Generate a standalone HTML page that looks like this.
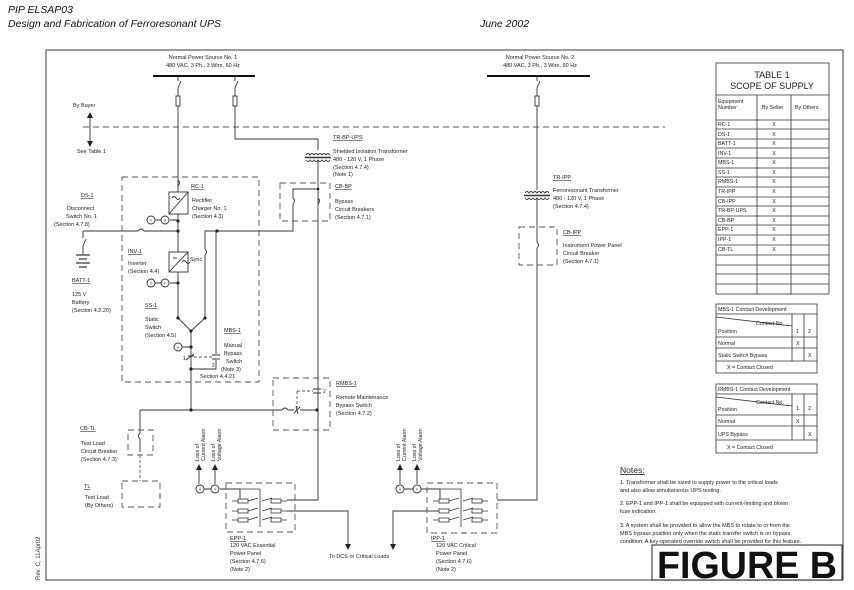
<!DOCTYPE html>
<html><head><meta charset="utf-8"><style>
body{margin:0;background:#fff;}
svg{display:block;font-family:"Liberation Sans",sans-serif;}
</style></head><body>
<svg width="854" height="590" viewBox="0 0 854 590" xmlns="http://www.w3.org/2000/svg">
<g font-style="italic" font-size="10.5" fill="#111">
<text x="8" y="13">PIP ELSAP03</text>
<text x="8" y="27">Design and Fabrication of Ferroresonant UPS</text>
<text x="480" y="27">June 2002</text>
</g>
<rect x="46" y="50" width="797" height="530" fill="none" stroke="#666" stroke-width="1.3"/>
<text transform="translate(40,580) rotate(-90)" font-size="6" fill="#333">Rev. C, 11Apr02</text>

<g font-size="5.5" fill="#222">
<text x="203" y="59" text-anchor="middle">Normal Power Source No. 1</text>
<text x="203" y="67" text-anchor="middle">480 VAC, 3 Ph., 3 Wire, 60 Hz</text>
<text x="540" y="59" text-anchor="middle">Normal Power Source No. 2</text>
<text x="540" y="67" text-anchor="middle">480 VAC, 3 Ph., 3 Wire, 60 Hz</text>
</g>
<g stroke="#111" stroke-width="2"><line x1="153" y1="76" x2="255" y2="76"/><line x1="487" y1="76" x2="590" y2="76"/></g>

<g fill="none" stroke="#333" stroke-width="0.9">
<path d="M178 76V81M178 88l3-7M178 88V96M178 106V192"/>
<rect x="176" y="96" width="4" height="10"/>
<path d="M235 76V81M235 88l3-7M235 88V96M235 106V139H318V150"/>
<rect x="233" y="96" width="4" height="10"/>
<path d="M537 76V81M537 88l3-7M537 88V96M537 106V190"/>
<rect x="535" y="96" width="4" height="10"/>
<path d="M306 155q2-3 4 0q2-3 4 0q2-3 4 0q2-3 4 0q2-3 4 0q2-3 4 0M306 160q2 3 4 0q2 3 4 0q2 3 4 0q2 3 4 0q2 3 4 0q2 3 4 0" />
<line x1="305" y1="157.5" x2="331" y2="157.5" stroke-width="1.5"/>
<path d="M318 160V500H287"/>
<path d="M525 193q2-3 4 0q2-3 4 0q2-3 4 0q2-3 4 0q2-3 4 0q2-3 4 0M525 198q2 3 4 0q2 3 4 0q2 3 4 0q2 3 4 0q2 3 4 0q2 3 4 0"/>
<line x1="524" y1="195.5" x2="550" y2="195.5" stroke-width="1.5"/>
<path d="M537 198V242M537 248V500H497"/>
<path d="M537 242q3 3 0 6"/>
<path d="M318 189H293V198M293 204V231H205V249M205 255V318"/>
<path d="M293 198q3 3 0 6M318 198q3 3 0 6M205 249q3 3 0 6"/>
<path d="M178 180q3 3 0 6M178 214V252M178 272V318L191 331L205 318M191 331V410"/>
<path d="M83 231H138M144 231H178M138 231q3-4 6 0"/>
<path d="M216 231V354M216 360V369H191"/>
<path d="M83 231V238M83 246l3-7M83 246V255"/>
<g stroke-width="1.2"><line x1="76" y1="255" x2="90" y2="255"/><line x1="79" y1="259" x2="87" y2="259"/><line x1="76" y1="263" x2="90" y2="263"/><line x1="79" y1="267" x2="87" y2="267"/></g>
<path d="M140 410H282M288 410H294M300 410H317M282 410q3-4 6 0M294 413l6-6M296 406l2 8"/>
<path d="M140 410V433M140 439V452M140 433q-3 3 0 6"/>
<path d="M188 356h6M186 360l8-6M212 355h8M212 359h8"/>
<path d="M313 389h8M313 393h8"/>
<path d="M170 220H178M170 283H178M182 347H191M220 489H240V500"/>
<path d="M421 489H440V500"/>
<path d="M287 511H348V545M393 545V511H440"/>
<path d="M90 116V143M199 468V484M215 468V484M400 468V484M417 468V484"/>
</g>
<g fill="#222">
<path d="M87 118l3-6l3 6zM87 141l3 6l3-6z"/>
<path d="M196 470l3-6l3 6zM212 470l3-6l3 6zM397 470l3-6l3 6zM414 470l3-6l3 6z"/>
<path d="M345 544l3 6l3-6zM390 544l3 6l3-6z"/>
<circle cx="178" cy="221" r="1.6"/><circle cx="178" cy="231" r="1.6"/><circle cx="217" cy="231" r="1.6"/>
<circle cx="178" cy="283" r="1.6"/><circle cx="178" cy="318" r="1.6"/><circle cx="205" cy="318" r="1.6"/><circle cx="191" cy="331" r="1.6"/>
<circle cx="191" cy="347" r="1.6"/><circle cx="191" cy="369" r="1.6"/><circle cx="191" cy="410" r="1.6"/><circle cx="317" cy="410" r="1.6"/>
<circle cx="318" cy="189" r="1.3"/>
</g>
<g fill="none" stroke="#555" stroke-width="0.9" stroke-dasharray="6,4">
<line x1="83" y1="127" x2="665" y2="127"/>
<rect x="122" y="177" width="137" height="205"/>
<rect x="280" y="183" width="50" height="38"/>
<rect x="519" y="227" width="38" height="38"/>
<rect x="273" y="378" width="57" height="52"/>
<rect x="128" y="430" width="25" height="25"/>
<rect x="122" y="481" width="38" height="26"/>
<rect x="226" y="483" width="69" height="49"/>
<rect x="427" y="483" width="70" height="50"/>
<path d="M140 455V481M194 357h18M297 391h16M297 391v17" stroke-dasharray="3,2"/>
</g>
<g fill="#fff" stroke="#333" stroke-width="0.9">
<rect x="169" y="192" width="19" height="22"/><rect x="169" y="252" width="19" height="20"/>
<circle cx="151" cy="220" r="4"/><circle cx="165" cy="220" r="4"/>
<circle cx="151" cy="283" r="4"/><circle cx="165" cy="283" r="4"/>
<circle cx="178" cy="347" r="4"/>
<circle cx="200" cy="489" r="4"/><circle cx="215" cy="489" r="4"/>
<circle cx="400" cy="489" r="4"/><circle cx="417" cy="489" r="4"/>
</g>
<g stroke="#333" stroke-width="0.9" fill="none">
<path d="M169 214L188 192M169 272L188 252M155 220h6M155 283h6M404 489h9M204 489h7"/>
<path d="M172 198q2-3 4 0q2 3 4 0M182 262q2-3 4 0q2 3 4 0M173 258h4"/>
</g>
<g font-size="3.5" fill="#333" text-anchor="middle">
<text x="151" y="221.5">V</text><text x="165" y="221.5">A</text><text x="151" y="284.5">V</text><text x="165" y="284.5">F</text>
<text x="178" y="348.5">A</text><text x="200" y="490.5">A</text><text x="215" y="490.5">V</text><text x="400" y="490.5">A</text><text x="417" y="490.5">V</text>
</g>
<g stroke="#333" stroke-width="0.8" fill="#fff">
<g id="pnl">
<path d="M232 501h6M248 501l10-3M232 511h6M248 511l10-3M232 520h6M248 520l10-3M262 501l10-3M262 511l10-3M262 520l10-3M281 501h6M281 511h6M281 520h6" fill="none"/>
<path d="M260 489v38M226 489H260" fill="none"/>
<rect x="238" y="499" width="10" height="4"/><rect x="238" y="509" width="10" height="4"/><rect x="238" y="518" width="10" height="4"/>
<rect x="271" y="499" width="10" height="4"/><rect x="271" y="509" width="10" height="4"/><rect x="271" y="518" width="10" height="4"/>
</g>
<use href="#pnl" x="201"/>
</g>

<g font-size="5.5" fill="#222">
<text x="73" y="107">By Buyer</text><text x="77" y="153">See Table 1</text>
<text x="333" y="139" text-decoration="underline">TR-BP-UPS</text>
<text x="333" y="153">Shielded Isolation Transformer</text><text x="333" y="161">480 - 120 V, 1 Phase</text><text x="333" y="169">(Section 4.7.4)</text><text x="333" y="176">(Note 1)</text>
<text x="335" y="188" text-decoration="underline">CB-BP</text><text x="335" y="203">Bypass</text><text x="335" y="211">Circuit Breakers</text><text x="335" y="219">(Section 4.7.1)</text>
<text x="191" y="188" text-decoration="underline">RC-1</text><text x="192" y="202">Rectifier</text><text x="192" y="210">Charger No. 1</text><text x="192" y="218">(Section 4.3)</text>
<text x="81" y="197" text-decoration="underline">DS-1</text><text x="67" y="210">Disconnect</text><text x="66" y="218">Switch No. 1</text><text x="54" y="226">(Section 4.7.8)</text>
<text x="72" y="282" text-decoration="underline">BATT-1</text><text x="72" y="296">125 V</text><text x="72" y="304">Battery</text><text x="72" y="312">(Section 4.2.20)</text>
<text x="128" y="253" text-decoration="underline">INV-1</text><text x="128" y="265">Inverter</text><text x="128" y="273">(Section 4.4)</text><text x="190" y="261">Sync</text>
<text x="145" y="307" text-decoration="underline">SS-1</text><text x="145" y="321">Static</text><text x="145" y="329">Switch</text><text x="145" y="337">(Section 4.5)</text>
<text x="224" y="332" text-decoration="underline">MBS-1</text><text x="224" y="347">Manual</text><text x="224" y="355">Bypass</text><text x="226" y="363">Switch</text><text x="221" y="371">(Note 3)</text><text x="200" y="378">Section 4.4.21</text>
<text x="183" y="360" font-size="5">1</text><text x="212" y="367" font-size="5">2</text><text x="323" y="393" font-size="5">2</text>
<text x="336" y="385" text-decoration="underline">RMBS-1</text><text x="336" y="399">Remote Maintenance</text><text x="336" y="407">Bypass Switch</text><text x="336" y="415">(Section 4.7.2)</text>
<text x="80" y="430" text-decoration="underline">CB-TL</text><text x="81" y="445">Test Load</text><text x="81" y="453">Circuit Breaker</text><text x="81" y="461">(Section 4.7.3)</text>
<text x="84" y="488" text-decoration="underline">TL</text><text x="85" y="499">Test Load</text><text x="85" y="507">(By Others)</text>
<text x="230" y="540" text-decoration="underline">EPP-1</text><text x="230" y="547">120 VAC Essential</text><text x="230" y="555">Power Panel</text><text x="230" y="563">(Section 4.7.6)</text><text x="230" y="571">(Note 2)</text>
<text x="431" y="540" text-decoration="underline">IPP-1</text><text x="436" y="547">120 VAC Critical</text><text x="436" y="555">Power Panel</text><text x="436" y="563">(Section 4.7.6)</text><text x="436" y="571">(Note 2)</text>
<text x="329" y="558">To DCS or Critical Loads</text>
<text x="553" y="179" text-decoration="underline">TR-IPP</text><text x="553" y="192">Ferroresonant Transformer</text><text x="553" y="200">480 - 120 V, 1 Phase</text><text x="553" y="208">(Section 4.7.4)</text>
<text x="563" y="234" text-decoration="underline">CB-IPP</text><text x="563" y="247">Instrument Power Panel</text><text x="563" y="255">Circuit Breaker</text><text x="563" y="263">(Section 4.7.1)</text>
<g font-size="5.3">
<text transform="translate(199,461) rotate(-90)">Loss of</text><text transform="translate(205,461) rotate(-90)">Current Alarm</text>
<text transform="translate(215,461) rotate(-90)">Loss of</text><text transform="translate(221,461) rotate(-90)">Voltage Alarm</text>
<text transform="translate(400,461) rotate(-90)">Loss of</text><text transform="translate(406,461) rotate(-90)">Current Alarm</text>
<text transform="translate(416,461) rotate(-90)">Loss of</text><text transform="translate(422,461) rotate(-90)">Voltage Alarm</text>
</g>
</g>

<g stroke="#333" stroke-width="0.8" fill="none">
<rect x="716" y="63" width="113" height="231"/>
<line x1="716" y1="95" x2="829" y2="95"/>
<line x1="757" y1="95" x2="757" y2="294"/><line x1="791" y1="95" x2="791" y2="294"/>
<path d="M716 120H829M716 129H829M716 139H829M716 148H829M716 158H829M716 168H829M716 177H829M716 187H829M716 197H829M716 206H829M716 216H829M716 225H829M716 235H829M716 245H829M716 255H829M716 265H829M716 274H829M716 284H829"/>
<rect x="716" y="304" width="101" height="69"/>
<path d="M716 314H817M716 337H817M716 348H817M716 361H817M792 314V361M804 314V361M716 317L792 326"/>
<rect x="716" y="384" width="101" height="69"/>
<path d="M716 394H817M716 415H817M716 426H817M716 440H817M792 394V440M804 394V440M716 397L792 406"/>
</g>
<g font-size="5.3" fill="#222">
<text x="772" y="78" text-anchor="middle" font-size="9">TABLE  1</text>
<text x="772" y="89" text-anchor="middle" font-size="9">SCOPE  OF  SUPPLY</text>
<text x="718" y="103">Equipment</text><text x="718" y="109">Number</text><text x="762" y="109">By Seller</text><text x="795" y="109">By Others</text>
<g>
<text x="718" y="126">RC-1</text><text x="718" y="136">DS-1</text><text x="718" y="145">BATT-1</text><text x="718" y="155">INV-1</text><text x="718" y="164">MBS-1</text><text x="718" y="174">SS-1</text><text x="718" y="183">RMBS-1</text><text x="718" y="193">TR-IPP</text><text x="718" y="203">CB-IPP</text><text x="718" y="212">TR-BP-UPS</text><text x="718" y="222">CB-BP</text><text x="718" y="231">EPP-1</text><text x="718" y="241">IPP-1</text><text x="718" y="251">CB-TL</text>
</g>
<g text-anchor="middle"><text x="774" y="126">X</text><text x="774" y="136">X</text><text x="774" y="145">X</text><text x="774" y="155">X</text><text x="774" y="164">X</text><text x="774" y="174">X</text><text x="774" y="183">X</text><text x="774" y="193">X</text><text x="774" y="203">X</text><text x="774" y="212">X</text><text x="774" y="222">X</text><text x="774" y="231">X</text><text x="774" y="241">X</text><text x="774" y="251">X</text></g>
<text x="718" y="311">MBS-1   Contact Development</text>
<text x="756" y="325">Contact No.</text><text x="718" y="333">Position</text><text x="796" y="333">1</text><text x="808" y="333">2</text>
<text x="718" y="345">Normal</text><text x="796" y="345">X</text>
<text x="718" y="357">Static Switch Bypass</text><text x="808" y="357">X</text>
<text x="727" y="369">X  =  Contact Closed</text>
<text x="718" y="391">RMBS-1   Contact Development</text>
<text x="756" y="404">Contact No.</text><text x="718" y="411">Position</text><text x="796" y="410">1</text><text x="808" y="410">2</text>
<text x="718" y="423">Normal</text><text x="796" y="423">X</text>
<text x="718" y="436">UPS Bypass</text><text x="808" y="436">X</text>
<text x="727" y="449">X  =  Contact Closed</text>
</g>
<g font-size="5.5" fill="#222">
<text x="620" y="473" font-size="8.5" text-decoration="underline">Notes:</text>
<text x="620" y="484">1.  Transformer shall be sized to supply power to the critical loads</text>
<text x="620" y="492">and also allow simultaneous UPS testing.</text>
<text x="620" y="505">2.  EPP-1 and IPP-1 shall be equipped with current-limiting and blown</text>
<text x="620" y="513">fuse indication.</text>
<text x="620" y="527">3.  A system shall be provided to allow the MBS to rotate to or from the</text>
<text x="620" y="535">MBS bypass position only when the static transfer switch is on bypass</text>
<text x="620" y="543">condition.   A key-operated override switch shall be provided for this feature.</text>
</g>
<rect x="652" y="545" width="190" height="35" fill="#fff" stroke="#222" stroke-width="1"/>
<text x="657" y="578" font-size="38" font-weight="bold" fill="#111" textLength="180" lengthAdjust="spacingAndGlyphs">FIGURE  B</text>
</svg>
</body></html>
